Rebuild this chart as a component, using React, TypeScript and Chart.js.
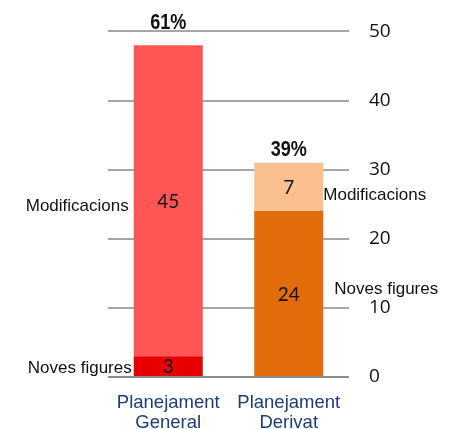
import React, { useEffect, useRef } from "react";
import { Chart, registerables } from "chart.js";

Chart.register(...registerables);

const categories: string[][] = [["Planejament", "General"], ["Planejament", "Derivat"]];
const seriesNames = ["Noves figures", "Modificacions"];
const novesFigures = [3, 24];
const modificacions = [45, 7];
const percentLabels = ["61%", "39%"];
const yTicks = [0, 10, 20, 30, 40, 50];

const novesColors = ["#E80000", "#E36C0A"];
const modColors = ["#FF5555", "#FAC090"];

// style offsets for annotation text
const pctOffsets = [16, 7];
const sideLabelOffsetY = [
  [2, -4],
  [6, 8],
];

const annotations = {
  id: "annotations",
  afterDatasetsDraw(chart: any) {
    const ctx = chart.ctx;
    ctx.save();
    chart.data.datasets.forEach((ds: any, di: number) => {
      const meta = chart.getDatasetMeta(di);
      meta.data.forEach((bar: any, i: number) => {
        const mid = (bar.y + bar.base) / 2;
        ctx.font = "19px Lato, 'Noto Sans', sans-serif";
        ctx.fillStyle = "#111";
        ctx.textAlign = "center";
        ctx.textBaseline = "middle";
        ctx.fillText(String(ds.data[i]), bar.x, mid + 1);
        ctx.font = "17px 'Liberation Sans', Arial, sans-serif";
        ctx.fillStyle = "#111";
        if (i === 0) {
          ctx.textAlign = "right";
          ctx.fillText(seriesNames[di], bar.x - bar.width / 2 - (di === 0 ? 2 : 5), mid + sideLabelOffsetY[di][0]);
        } else {
          ctx.textAlign = "left";
          ctx.fillText(seriesNames[di], bar.x + bar.width / 2 + (di === 0 ? 11 : 0), mid + sideLabelOffsetY[di][1]);
        }
      });
    });
    const topMeta = chart.getDatasetMeta(chart.data.datasets.length - 1);
    topMeta.data.forEach((bar: any, i: number) => {
      ctx.save();
      ctx.font = "bold 22px 'Liberation Sans', Arial, sans-serif";
      ctx.fillStyle = "#111";
      ctx.textAlign = "center";
      ctx.textBaseline = "alphabetic";
      ctx.translate(bar.x, bar.y - pctOffsets[i]);
      ctx.scale(0.82, 1);
      ctx.fillText(percentLabels[i], 0, 0);
      ctx.restore();
    });
    ctx.restore();
  },
};

export default function App() {
  const ref = useRef<HTMLCanvasElement>(null);
  useEffect(() => {
    if (!ref.current) return;
    const chart = new Chart(ref.current, {
      type: "bar",
      data: {
        labels: categories,
        datasets: [
          {
            label: seriesNames[0],
            data: novesFigures,
            backgroundColor: novesColors,
            categoryPercentage: 1,
            barPercentage: 0.573,
          },
          {
            label: seriesNames[1],
            data: modificacions,
            backgroundColor: modColors,
            categoryPercentage: 1,
            barPercentage: 0.573,
          },
        ],
      },
      options: {
        animation: false,
        responsive: false,
        devicePixelRatio: 1,
        layout: { padding: { left: 108, top: 29, right: 0, bottom: 0 } },
        plugins: { legend: { display: false }, tooltip: { enabled: false } },
        scales: {
          x: {
            stacked: true,
            grid: { display: false },
            border: { display: false },
            ticks: {
              color: "#1F3C7A",
              font: { family: "'Liberation Sans', Arial, sans-serif", size: 18.5, lineHeight: 1.08 },
              padding: 8,
              maxRotation: 0,
            },
            afterFit(scale: any) {
              scale.height = 52;
            },
          },
          y: {
            stacked: true,
            position: "right",
            min: 0,
            max: 50,
            afterBuildTicks(scale: any) {
              scale.ticks = yTicks.map((v) => ({ value: v }));
            },
            grid: {
              color: (c: any) => (c.tick && c.tick.value === 0 ? "#8C8C8C" : "#A6A6A6"),
              lineWidth: 2,
              drawTicks: false,
            },
            border: { display: false },
            ticks: {
              color: "#111",
              font: { family: "'Open Sans', sans-serif", size: 19 },
              padding: 20,
            },
            afterFit(scale: any) {
              scale.width = 110;
            },
          },
        },
      },
      plugins: [annotations],
    });
    return () => chart.destroy();
  }, []);
  return (
    <div style={{ position: "fixed", left: 0, top: 0, width: 459, height: 429, background: "#fff" }}>
      <canvas ref={ref} width={459} height={429} style={{ width: 459, height: 429 }} />
    </div>
  );
}
